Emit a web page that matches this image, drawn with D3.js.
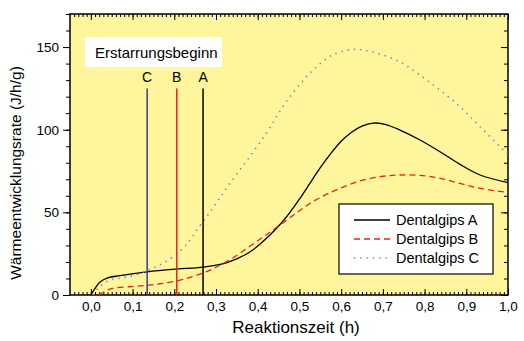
<!DOCTYPE html>
<html>
<head>
<meta charset="utf-8">
<script src="https://cdn.jsdelivr.net/npm/d3@7"></script>
<style>
  body { margin: 0; background: #fff; }
  text { font-family: "Liberation Sans", Arial, sans-serif; fill: #000; }
</style>
</head>
<body>
<div id="chart"></div>
<script>
// Constants
const width = 524;
const height = 341;
const margin = {top: 14, right: 16, bottom: 46, left: 70};
const plotWidth = width - margin.left - margin.right;
const plotHeight = height - margin.top - margin.bottom;
const bgColor = "#fff59d";

// data: [Reaktionszeit (h), Waermeentwicklungsrate (J/h/g)]
const gipsA = [[0, 0], [0.01, 4], [0.022, 7.8], [0.04, 10.3], [0.07, 11.7], [0.135, 14], [0.206, 15.7],
  [0.269, 16.9], [0.325, 19.5], [0.381, 26], [0.43, 36.5], [0.465, 46], [0.5, 58], [0.525, 67.5],
  [0.55, 77], [0.575, 85.5], [0.6, 93], [0.625, 98.5], [0.65, 102.2], [0.676, 104], [0.705, 103.2],
  [0.741, 99.8], [0.789, 93.8], [0.837, 86.7], [0.885, 79], [0.933, 72.6], [1.0, 68]];
const gipsB = [[0.02, 0], [0.046, 3.6], [0.094, 5], [0.135, 5.8], [0.166, 6.8], [0.206, 8.5], [0.24, 10.8],
  [0.269, 13.3], [0.3, 16.8], [0.341, 22.5], [0.381, 29.5], [0.421, 36.5], [0.465, 44.5], [0.5, 51],
  [0.525, 55.4], [0.56, 60.3], [0.597, 64.5], [0.645, 69], [0.694, 71.6], [0.741, 72.6], [0.789, 72.4],
  [0.837, 70.6], [0.885, 67.5], [0.933, 64.5], [1.0, 62]];
const gipsC = [[0.005, 0], [0.017, 4], [0.029, 6.6], [0.046, 9], [0.07, 10.2], [0.094, 11.3], [0.118, 13],
  [0.149, 16.3], [0.177, 19.8], [0.213, 26.5], [0.237, 33], [0.261, 41.7], [0.285, 50], [0.309, 58.6],
  [0.333, 67.5], [0.373, 81], [0.421, 98], [0.46, 113.9], [0.501, 127.5], [0.541, 138], [0.58, 145.3],
  [0.63, 148.6], [0.676, 147], [0.741, 141], [0.789, 133], [0.837, 124], [0.885, 113.9], [0.933, 101.8],
  [0.981, 89.7], [1.0, 85]];

// Erstarrungsbeginn markers
const onsetLabels = ["C", "B", "A"];
const onsetTimes = [0.135, 0.206, 0.269];
const onsetColors = ["#3c3c8c", "#e8201c", "#000000"];
const onsetTop = 125;

const seriesNames = ["Dentalgips A", "Dentalgips B", "Dentalgips C"];
const seriesData = [gipsA, gipsB, gipsC];
const seriesColors = ["#000000", "#e8201c", "#7a7ac8"];
const seriesDash = [null, "6,4", "1.3,5"];

const xTicks = [0, 0.1, 0.2, 0.3, 0.4, 0.5, 0.6, 0.7, 0.8, 0.9, 1.0];
const yTicks = [0, 50, 100, 150];

const svg = d3.select("#chart")
  .append("svg")
  .attr("width", width)
  .attr("height", height);

const g = svg.append("g")
  .attr("transform", "translate(" + margin.left + "," + margin.top + ")");

const x = d3.scaleLinear().domain([-0.05, 1.0]).range([0, plotWidth]);
const y = d3.scaleLinear().domain([0, 170]).range([plotHeight, 0]);

g.append("rect")
  .attr("width", plotWidth)
  .attr("height", plotHeight)
  .attr("fill", bgColor);

const fmt = d => d3.format(".1f")(d).replace(".", ",");
const minorX = d3.range(-4, 101).map(i => i / 100);
const minorY = d3.range(0, 171, 10);

// bottom axis (ticks inward)
const axBottom = g.append("g").attr("transform", "translate(0," + plotHeight + ")");
axBottom.call(d3.axisBottom(x).tickValues(minorX).tickSize(-3).tickFormat(""));
axBottom.append("g").call(d3.axisBottom(x).tickValues(xTicks).tickSize(-6).tickFormat(fmt));
axBottom.selectAll("text").attr("dy", "0.95em").attr("font-size", 13.5);

// top axis
const axTop = g.append("g");
axTop.call(d3.axisTop(x).tickValues(minorX).tickSize(-3).tickFormat(""));
axTop.append("g").call(d3.axisTop(x).tickValues(xTicks).tickSize(-6).tickFormat(""));

// left axis (ticks outward)
const axLeft = g.append("g");
axLeft.call(d3.axisLeft(y).tickValues(minorY).tickSize(4).tickFormat(""));
axLeft.append("g").call(d3.axisLeft(y).tickValues(yTicks).tickSize(7).tickPadding(4));
axLeft.selectAll("text").attr("font-size", 13.5);

// right axis (ticks inward)
const axRight = g.append("g").attr("transform", "translate(" + plotWidth + ",0)");
axRight.call(d3.axisRight(y).tickValues(minorY).tickSize(-4).tickFormat(""));
axRight.append("g").call(d3.axisRight(y).tickValues(yTicks).tickSize(-7).tickFormat(""));

g.selectAll(".domain").remove();
g.selectAll(".tick line").attr("stroke", "#000").attr("stroke-width", 1);

// frame
g.append("rect")
  .attr("width", plotWidth)
  .attr("height", plotHeight)
  .attr("fill", "none")
  .attr("stroke", "#000")
  .attr("stroke-width", 1.5);

// curves
const line = d3.line()
  .x(d => x(d[0]))
  .y(d => y(d[1]))
  .curve(d3.curveCatmullRom.alpha(0.5));

g.selectAll(".series")
  .data(seriesData)
  .enter()
  .append("path")
  .attr("class", "series")
  .attr("d", d => line(d))
  .attr("fill", "none")
  .attr("stroke", (d, i) => seriesColors[i])
  .attr("stroke-width", (d, i) => i === 2 ? 1.6 : 1.3)
  .attr("stroke-dasharray", (d, i) => seriesDash[i]);

// onset markers
g.selectAll(".onset")
  .data(onsetTimes)
  .enter()
  .append("line")
  .attr("x1", d => x(d))
  .attr("x2", d => x(d))
  .attr("y1", y(0))
  .attr("y2", y(onsetTop))
  .attr("stroke", (d, i) => onsetColors[i])
  .attr("stroke-width", 1.5);

g.selectAll(".onsetLabel")
  .data(onsetTimes)
  .enter()
  .append("text")
  .attr("x", d => x(d))
  .attr("y", y(onsetTop) - 6)
  .attr("text-anchor", "middle")
  .attr("font-size", 14)
  .text((d, i) => onsetLabels[i]);

// title box
g.append("rect")
  .attr("x", 15).attr("y", 23)
  .attr("width", 137).attr("height", 30)
  .attr("fill", "#fff");
g.append("text")
  .attr("x", 25).attr("y", 44)
  .attr("font-size", 15)
  .text("Erstarrungsbeginn");

// legend
const legend = g.append("g").attr("transform", "translate(269,190)");
legend.append("rect")
  .attr("width", 154).attr("height", 70)
  .attr("fill", "#fff")
  .attr("stroke", "#000")
  .attr("stroke-width", 1.2);
seriesNames.forEach(function(name, i)
{
  const row = legend.append("g").attr("transform", "translate(0," + (16 + i * 19) + ")");
  row.append("line")
    .attr("x1", 15).attr("x2", 51)
    .attr("stroke", seriesColors[i])
    .attr("stroke-width", i === 2 ? 1.6 : 1.3)
    .attr("stroke-dasharray", seriesDash[i]);
  row.append("text")
    .attr("x", 57).attr("y", 5)
    .attr("font-size", 14.5)
    .text(name);
});

// axis titles
svg.append("text")
  .attr("transform", "translate(21,173) rotate(-90)")
  .attr("text-anchor", "middle")
  .attr("font-size", 15.5)
  .text("Wärmeentwicklungsrate (J/h/g)");

svg.append("text")
  .attr("x", 296)
  .attr("y", 333)
  .attr("text-anchor", "middle")
  .attr("font-size", 17)
  .text("Reaktionszeit (h)");
</script>
</body>
</html>
